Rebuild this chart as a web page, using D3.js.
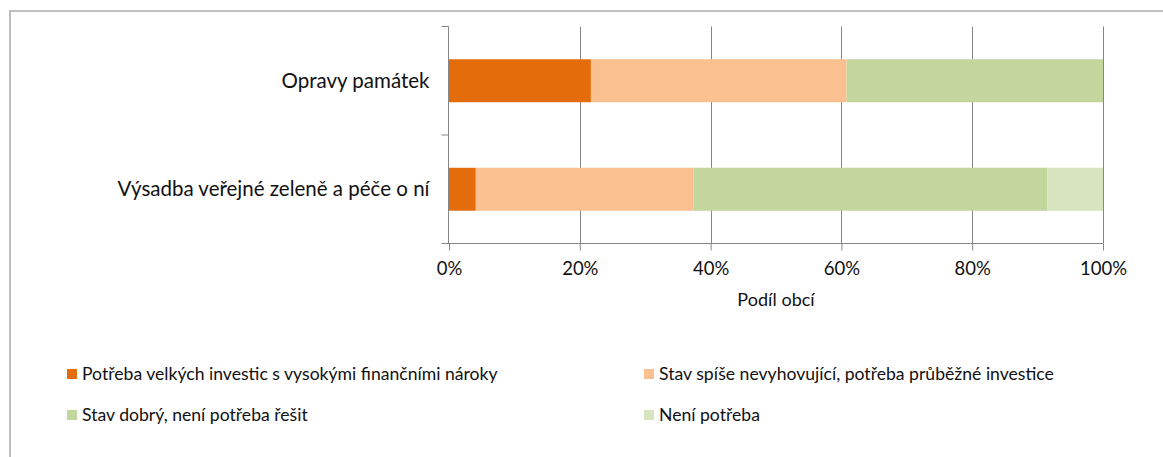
<!DOCTYPE html>
<html>
<head>
<meta charset="utf-8">
<script src="https://cdn.jsdelivr.net/npm/d3@7"></script>
<style>
    body { margin: 0; background: #fff; }
    svg { font-family: Lato, "Open Sans", sans-serif; }
    .axis path, .axis line { stroke: #868686; }
    .grid line { stroke: #868686; }
</style>
</head>
<body>
<div id="chart"></div>
<script>
// data (percent of municipalities)
var categories = ['Opravy památek', 'Výsadba veřejné zeleně a péče o ní'];
var seriesNames = [
    'Potřeba velkých investic s vysokými finančními nároky',
    'Stav spíše nevyhovující, potřeba průběžné investice',
    'Stav dobrý, není potřeba řešit',
    'Není potřeba'
];
var seriesColors = ['#E46C0A', '#FAC090', '#C3D69B', '#D7E4BD'];
var bigInvest = [21.7, 4.1];
var ongoingInvest = [39.1, 33.3];
var goodState = [39.2, 54.1];
var notNeeded = [0, 8.5];
var xTicks = [0, 20, 40, 60, 80, 100];

var W = 1163, H = 457,
    margin = {top: 26.5, left: 449, right: 60, bottom: 213.5},
    textColor = '#111';

var svg = d3.select('#chart').append('svg')
    .attr('width', W)
    .attr('height', H);

// outer frame (only top and left visible)
svg.append('path')
    .attr('d', 'M10,' + H + 'V11H' + W)
    .attr('fill', 'none')
    .attr('stroke', '#bfbfbf')
    .attr('stroke-width', 2);

var x = d3.scaleLinear().domain([0, 100]).range([margin.left, 1103]);
var y = d3.scaleBand().domain(categories).range([margin.top, 243.5]).paddingInner(0.604).paddingOuter(0.302);

// gridlines
svg.append('g').attr('class', 'grid')
    .selectAll('line')
    .data(xTicks.slice(1))
    .enter().append('line')
    .attr('x1', function (d) { return Math.round(x(d)) + 0.5; })
    .attr('x2', function (d) { return Math.round(x(d)) + 0.5; })
    .attr('y1', margin.top)
    .attr('y2', 243.5);

// stacked bars
var rows = categories.map(function (c, i) {
    return {cat: c, vals: [bigInvest[i], ongoingInvest[i], goodState[i], notNeeded[i]]};
});
rows.forEach(function (r) {
    var acc = 0;
    r.vals.forEach(function (v, k) {
        if (v > 0) {
            svg.append('rect')
                .attr('x', x(acc))
                .attr('width', x(acc + v) - x(acc))
                .attr('y', y(r.cat))
                .attr('height', y.bandwidth())
                .attr('fill', seriesColors[k]);
        }
        acc += v;
    });
});

// y axis
var yAxis = svg.append('g').attr('class', 'axis')
    .attr('transform', 'translate(' + (margin.left - 0.5) + ',0)');
yAxis.append('line').attr('y1', margin.top).attr('y2', 243.5);
yAxis.selectAll('.tk')
    .data([margin.top, (margin.top + 243.5) / 2, 243.5])
    .enter().append('line')
    .attr('x1', -7).attr('x2', 0)
    .attr('y1', function (d) { return d; })
    .attr('y2', function (d) { return d; });
yAxis.selectAll('text')
    .data(categories)
    .enter().append('text')
    .attr('x', -19)
    .attr('y', function (d) { return y(d) + y.bandwidth() / 2; })
    .attr('dy', '0.35em')
    .attr('text-anchor', 'end')
    .attr('font-size', 20.5)
    .attr('fill', textColor)
    .text(function (d) { return d; });

// x axis
var xAxis = svg.append('g').attr('class', 'axis x')
    .attr('transform', 'translate(0,243.5)')
    .call(d3.axisBottom(x).tickValues(xTicks).tickSize(7).tickSizeOuter(0)
        .tickFormat(function (d) { return d + '%'; }));
xAxis.select('.domain').attr('d', 'M442,0H' + x(100));
xAxis.selectAll('.tick text')
    .attr('font-size', 18.5)
    .attr('font-family', 'Lato, sans-serif')
    .attr('fill', textColor)
    .attr('y', 18);

svg.append('text')
    .attr('x', (x(0) + x(100)) / 2)
    .attr('y', 306)
    .attr('text-anchor', 'middle')
    .attr('font-size', 18)
    .attr('fill', textColor)
    .text('Podíl obcí');

// legend
var legendPos = [[67, 374], [644, 374], [67, 415], [644, 415]];
var legend = svg.selectAll('.legend')
    .data(seriesNames)
    .enter().append('g')
    .attr('transform', function (d, i) { return 'translate(' + legendPos[i][0] + ',' + legendPos[i][1] + ')'; });
legend.append('rect')
    .attr('x', 0).attr('y', -5)
    .attr('width', 10).attr('height', 10)
    .attr('fill', function (d, i) { return seriesColors[i]; });
legend.append('text')
    .attr('x', 15)
    .attr('dy', '0.35em')
    .attr('font-size', 17.6)
    .attr('fill', textColor)
    .text(function (d) { return d; });
</script>
</body>
</html>
